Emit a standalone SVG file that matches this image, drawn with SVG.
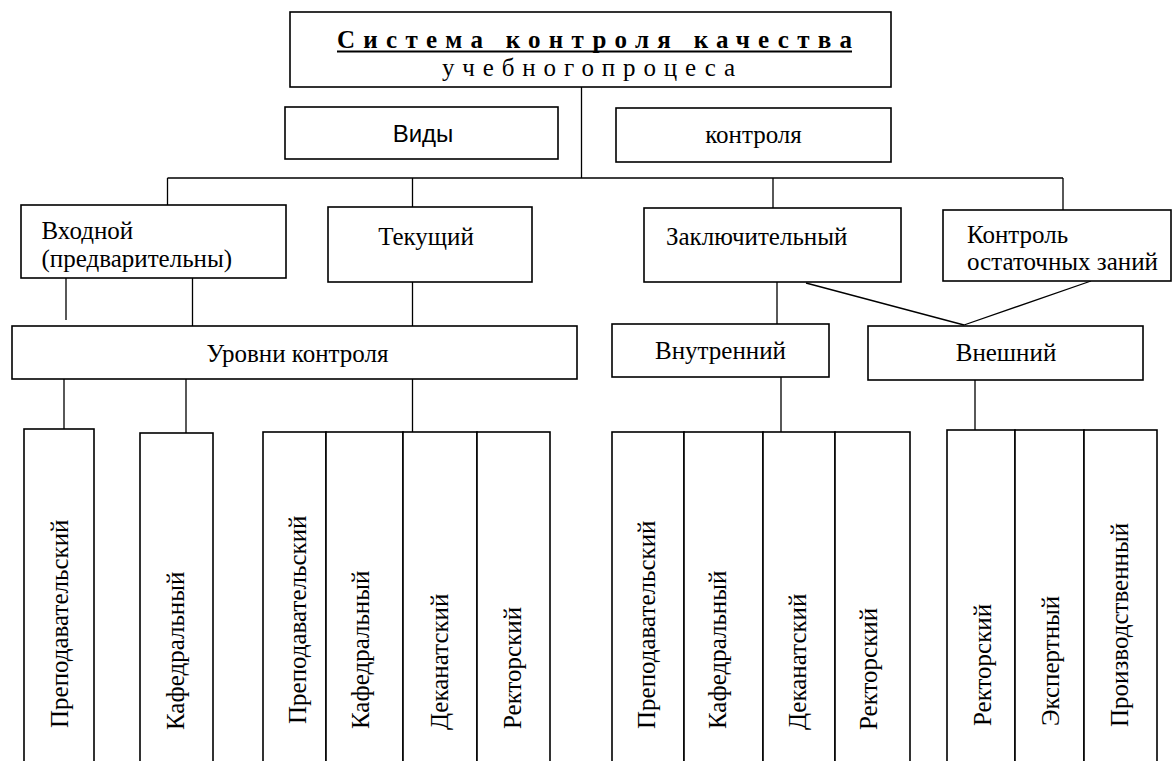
<svg xmlns="http://www.w3.org/2000/svg" width="1173" height="761" viewBox="0 0 1173 761">
<style>
.box{fill:#fff;stroke:#000;stroke-width:1.6}
.ln{stroke:#000;stroke-width:1.3;fill:none}
.t{font-family:"Liberation Serif","Times New Roman",serif;font-size:25px;fill:#000}
.a{font-family:"Liberation Sans",Arial,sans-serif;font-size:24px;fill:#000}
.c{text-anchor:middle}
</style>
<rect width="1173" height="761" fill="#fff"/>
<g id="connectors" class="ln">
<path d="M581.5 87V178M167.5 178H1063M167.5 178V206M412.5 178V207M773 178V208M1063 178V210"/>
<path d="M66 278V320M192.5 278V326M412.5 282V326"/>
<path d="M64 379V430M186 379V433M412.5 379V432"/>
<path d="M777 282V324M806 283L964 325M1091 281L964 325"/>
<path d="M781 377V432M975 380V430"/>
</g>
<g id="title">
<rect class="box" x="290" y="12" width="601" height="75"/>
<text class="t" x="337" y="48" style="font-size:25px;font-weight:bold" textLength="515" lengthAdjust="spacing">Система контроля качества</text>
<line x1="337" y1="51.5" x2="852" y2="51.5" stroke="#000" stroke-width="2.2"/>
<text class="t" x="442" y="76" style="font-size:25px" textLength="293" lengthAdjust="spacing">учебногопроцеса</text>
</g>
<g id="vidy"><rect class="box" x="285" y="107" width="273" height="52"/><text class="a c" x="423" y="142">Виды</text></g>
<g id="kontrolya"><rect class="box" x="616" y="108" width="275" height="54"/><text class="t c" x="753.5" y="143">контроля</text></g>
<g id="vhodnoy"><rect class="box" x="21" y="205" width="265" height="73"/><text class="t" x="41.5" y="239">Входной</text><text class="t" x="41.5" y="267">(предварительны)</text></g>
<g id="tekushchiy"><rect class="box" x="328" y="207" width="204" height="75"/><text class="t c" x="426" y="245">Текущий</text></g>
<g id="zaklyuchitelny"><rect class="box" x="644" y="208" width="257" height="74"/><text class="t" x="666" y="245">Заключительный</text></g>
<g id="ostatochnye"><rect class="box" x="943" y="210" width="228" height="71"/><text class="t" x="967" y="243">Контроль</text><text class="t" x="967" y="270">остаточных заний</text></g>
<g id="urovni"><rect class="box" x="12" y="326" width="565" height="53"/><text class="t c" x="297.5" y="361.5">Уровни контроля</text></g>
<g id="vnutrenniy"><rect class="box" x="612" y="324" width="217" height="53"/><text class="t c" x="720.5" y="359">Внутренний</text></g>
<g id="vneshniy"><rect class="box" x="868" y="326" width="275" height="54"/><text class="t c" x="1006" y="361">Внешний</text></g>
<g id="l-prep"><rect class="box" x="24" y="429" width="70" height="350"/><text class="t" transform="translate(67.5 728) rotate(-90)">Преподавательский</text></g>
<g id="l-kaf"><rect class="box" x="140" y="433" width="73" height="350"/><text class="t" transform="translate(183.5 730) rotate(-90)">Кафедральный</text></g>
<g id="t-prep"><rect class="box" x="263" y="432" width="63" height="350"/><text class="t" transform="translate(305.5 724) rotate(-90)">Преподавательский</text></g>
<g id="t-kaf"><rect class="box" x="326" y="432" width="77" height="350"/><text class="t" transform="translate(369 729) rotate(-90)">Кафедральный</text></g>
<g id="t-dek"><rect class="box" x="403" y="432" width="74" height="350"/><text class="t" transform="translate(447.5 730) rotate(-90)">Деканатский</text></g>
<g id="t-rek"><rect class="box" x="477" y="432" width="73" height="350"/><text class="t" transform="translate(520.5 729) rotate(-90)">Ректорский</text></g>
<g id="i-prep"><rect class="box" x="612" y="432" width="72" height="350"/><text class="t" transform="translate(655 729) rotate(-90)">Преподавательский</text></g>
<g id="i-kaf"><rect class="box" x="684" y="432" width="79" height="350"/><text class="t" transform="translate(725.5 729) rotate(-90)">Кафедральный</text></g>
<g id="i-dek"><rect class="box" x="763" y="432" width="72" height="350"/><text class="t" transform="translate(805.5 730) rotate(-90)">Деканатский</text></g>
<g id="i-rek"><rect class="box" x="835" y="432" width="75" height="350"/><text class="t" transform="translate(876.5 730) rotate(-90)">Ректорский</text></g>
<g id="e-rek"><rect class="box" x="947" y="430" width="68" height="350"/><text class="t" transform="translate(990.5 726) rotate(-90)">Ректорский</text></g>
<g id="e-eksp"><rect class="box" x="1015" y="430" width="69" height="350"/><text class="t" transform="translate(1059 726) rotate(-90)">Экспертный</text></g>
<g id="e-proizv"><rect class="box" x="1084" y="430" width="73" height="350"/><text class="t" transform="translate(1127.5 727) rotate(-90)">Производственный</text></g>
</svg>
